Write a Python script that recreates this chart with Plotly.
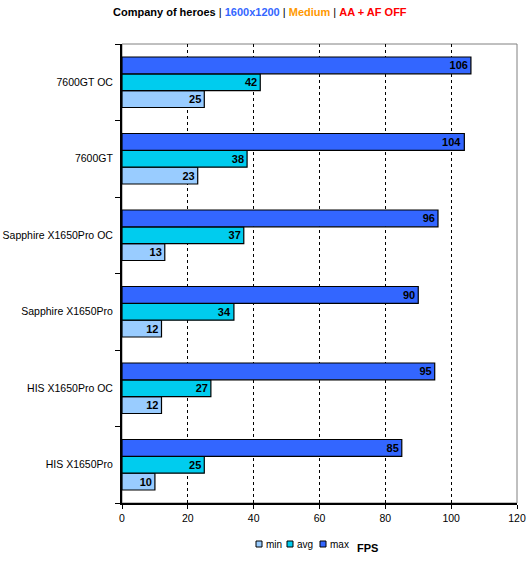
import plotly.graph_objects as go

categories = ["HIS X1650Pro", "HIS X1650Pro OC", "Sapphire X1650Pro",
              "Sapphire X1650Pro OC", "7600GT", "7600GT OC"]
min_vals = [10, 12, 12, 13, 23, 25]
avg_vals = [25, 27, 34, 37, 38, 42]
max_vals = [85, 95, 90, 96, 104, 106]
x_ticks = [0, 20, 40, 60, 80, 100, 120]
series_names = ["min", "avg", "max"]

FONT = "Liberation Sans, Arial, sans-serif"
colors = ["#99CCFF", "#00CCEE", "#3366FF"]

fig = go.Figure()
for name, vals, color in zip(series_names, [min_vals, avg_vals, max_vals], colors):
    fig.add_trace(go.Bar(
        name=name, y=categories, x=vals, orientation="h",
        marker=dict(color=color, line=dict(color="black", width=1.2)),
        text=[str(v) for v in vals], textposition="inside", insidetextanchor="end",
        textangle=0,
        textfont=dict(family=FONT, size=11, color="black", weight="bold"),
        constraintext="none", showlegend=False, hoverinfo="x+y",
    ))

# plot frame (gray top/right)
fig.add_shape(type="rect", xref="paper", yref="paper", x0=0, x1=1, y0=0, y1=1,
              line=dict(color="#808080", width=1), layer="below")

# custom compact legend
PX_W, PX_H = 395.0, 459.0
def px(x):
    return (x - 122) / PX_W
def py(y):
    return (503 - y) / PX_H

annotations = []
sq_x = [256, 287, 320]
txt_x = [264, 295, 328]
for name, color, sx, tx in zip(series_names, colors, sq_x, txt_x):
    fig.add_shape(type="rect", xref="paper", yref="paper",
                  x0=px(sx), x1=px(sx + 6), y0=py(547), y1=py(541),
                  fillcolor=color, line=dict(color="black", width=1))
    annotations.append(dict(text=name, xref="paper", yref="paper", x=px(tx), y=py(544),
                            xanchor="left", yanchor="middle", showarrow=False,
                            font=dict(size=10, color="black")))
annotations.append(dict(text="<b>FPS</b>", xref="paper", yref="paper",
                        x=px(355), y=py(548), xanchor="left", yanchor="middle",
                        showarrow=False, font=dict(size=11, color="black")))
annotations.append(dict(
    text=("<b>Company of heroes</b> | <b><span style='color:#3366FF'>1600x1200</span></b> | "
          "<b><span style='color:#FF9900'>Medium</span></b> | "
          "<b><span style='color:#FF0000'>AA + AF OFF</span></b>"),
    xref="paper", yref="paper", x=px(260), y=py(12), xanchor="center", yanchor="middle",
    showarrow=False, font=dict(size=11, color="black")))

fig.update_layout(
    width=529, height=568,
    margin=dict(l=122, r=12, t=44, b=65),
    paper_bgcolor="white", plot_bgcolor="white",
    barmode="group", bargap=0.34, bargroupgap=0,
    font=dict(family=FONT, size=11, color="black"),
    xaxis=dict(
        range=[0, 120], tickvals=x_ticks, ticktext=[str(t) for t in x_ticks],
        showgrid=True, gridcolor="black", griddash="dot", gridwidth=1,
        showline=True, linecolor="black", linewidth=2,
        ticks="outside", ticklen=4, tickcolor="black",
        zeroline=False, tickfont=dict(size=10.5), automargin=False,
    ),
    yaxis=dict(
        showline=True, linecolor="black", linewidth=2,
        ticks="outside", ticklen=5, tickcolor="black", tickson="boundaries",
        showgrid=False, tickfont=dict(size=10.5), automargin=False,
        ticklabelstandoff=5,
    ),
    showlegend=False,
    annotations=annotations,
)

fig.write_html("out.html", config={"displayModeBar": False},
               post_script="document.body.style.margin='0';document.body.style.overflow='hidden';")
